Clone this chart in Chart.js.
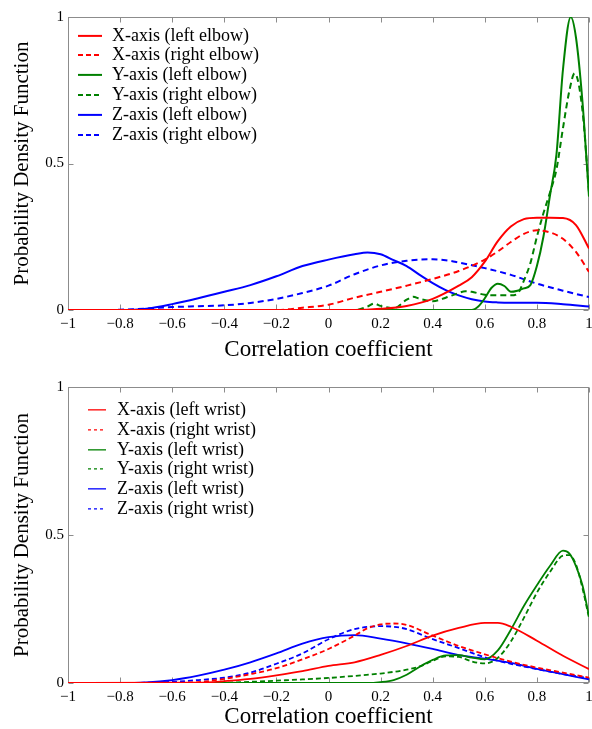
<!DOCTYPE html>
<html><head><meta charset="utf-8">
<script src="https://cdn.jsdelivr.net/npm/chart.js@4.4.1/dist/chart.umd.min.js"></script>
<style>
html,body{margin:0;padding:0;background:#fff;}
#wrap{position:relative;width:592px;height:729px;overflow:hidden;background:#fff;}
canvas{position:absolute;left:0;}
.lrow{position:absolute;white-space:nowrap;font-family:"Liberation Serif","Times New Roman",serif;font-size:18px;color:#000;}
.lrow svg{position:absolute;left:0;top:0;}
.lrow span{position:absolute;top:0;}
</style></head><body>
<div id="wrap">
<canvas id="c1" width="592" height="365" style="top:0"></canvas>
<canvas id="c2" width="592" height="364" style="top:365px"></canvas>
</div>
<script>
// ---------- data ----------
const xTicksMin = -1, xTicksMax = 1, xTickStep = 0.2;
const yTicks = [0, 0.5, 1];

// Top panel: elbow
const topLabels = ['X-axis (left elbow)','X-axis (right elbow)','Y-axis (left elbow)','Y-axis (right elbow)','Z-axis (left elbow)','Z-axis (right elbow)'];
const xLeftElbowX  = [-1, 0.1, 0.2, 0.3, 0.4, 0.5, 0.55, 0.6, 0.65, 0.7, 0.75, 0.8, 0.85, 0.9, 0.95, 1];
const xLeftElbowY  = [0, 0, 0.004, 0.014, 0.038, 0.083, 0.112, 0.165, 0.235, 0.285, 0.31, 0.315, 0.315, 0.314, 0.29, 0.21];
const xRightElbowX = [-1, -0.2, -0.1, 0, 0.1, 0.2, 0.3, 0.4, 0.5, 0.6, 0.65, 0.7, 0.75, 0.8, 0.85, 0.9, 0.95, 1];
const xRightElbowY = [0, 0, 0.008, 0.018, 0.042, 0.062, 0.083, 0.106, 0.133, 0.172, 0.2, 0.232, 0.26, 0.272, 0.265, 0.243, 0.198, 0.13];
const yLeftElbowX  = [-1, 0.55, 0.575, 0.6, 0.625, 0.65, 0.675, 0.7, 0.725, 0.75, 0.775, 0.8, 0.825, 0.85, 0.875, 0.9, 0.93, 0.95, 0.975, 0.99, 1];
const yLeftElbowY  = [0, 0, 0.012, 0.04, 0.075, 0.09, 0.082, 0.062, 0.066, 0.074, 0.085, 0.15, 0.25, 0.39, 0.53, 0.82, 1.0, 0.93, 0.71, 0.52, 0.387];
const yRightElbowX = [-1, 0.1, 0.15, 0.175, 0.2, 0.25, 0.3, 0.325, 0.35, 0.4, 0.45, 0.5, 0.525, 0.55, 0.6, 0.65, 0.7, 0.725, 0.75, 0.775, 0.8, 0.825, 0.85, 0.875, 0.9, 0.925, 0.945, 0.975, 1];
const yRightElbowY = [0, 0, 0.012, 0.022, 0.014, 0.006, 0.035, 0.045, 0.038, 0.03, 0.042, 0.058, 0.064, 0.062, 0.052, 0.05, 0.05, 0.055, 0.1, 0.16, 0.25, 0.33, 0.4, 0.48, 0.62, 0.75, 0.808, 0.68, 0.4];
const zLeftElbowX  = [-1, -0.8, -0.75, -0.7, -0.6, -0.5, -0.4, -0.3, -0.2, -0.1, 0, 0.1, 0.15, 0.2, 0.25, 0.3, 0.35, 0.4, 0.45, 0.5, 0.55, 0.6, 0.65, 0.7, 0.8, 0.9, 1];
const zLeftElbowY  = [0, 0, 0.001, 0.004, 0.02, 0.04, 0.062, 0.085, 0.115, 0.15, 0.172, 0.19, 0.196, 0.19, 0.17, 0.15, 0.12, 0.092, 0.068, 0.05, 0.037, 0.029, 0.026, 0.025, 0.025, 0.02, 0.012];
const zRightElbowX = [-1, -0.85, -0.8, -0.7, -0.6, -0.5, -0.4, -0.3, -0.2, -0.1, 0, 0.1, 0.2, 0.3, 0.35, 0.4, 0.45, 0.5, 0.6, 0.7, 0.8, 0.9, 1];
const zRightElbowY = [0, 0, 0.001, 0.005, 0.01, 0.013, 0.016, 0.024, 0.038, 0.058, 0.083, 0.122, 0.152, 0.168, 0.172, 0.173, 0.17, 0.162, 0.143, 0.12, 0.09, 0.066, 0.044];

// Bottom panel: wrist
const botLabels = ['X-axis (left wrist)','X-axis (right wrist)','Y-axis (left wrist)','Y-axis (right wrist)','Z-axis (left wrist)','Z-axis (right wrist)'];
const xLeftWristX  = [-1, -0.5, -0.4, -0.3, -0.2, -0.1, 0, 0.1, 0.2, 0.3, 0.4, 0.5, 0.6, 0.65, 0.7, 0.8, 0.9, 1];
const xLeftWristY  = [0, 0.001, 0.006, 0.014, 0.026, 0.04, 0.058, 0.07, 0.095, 0.125, 0.16, 0.186, 0.203, 0.203, 0.19, 0.143, 0.092, 0.047];
const xRightWristX = [-1, -0.6, -0.5, -0.4, -0.3, -0.2, -0.1, 0, 0.1, 0.15, 0.2, 0.25, 0.3, 0.4, 0.5, 0.6, 0.7, 0.8, 0.9, 1];
const xRightWristY = [0, 0, 0.003, 0.014, 0.03, 0.05, 0.08, 0.115, 0.16, 0.185, 0.198, 0.201, 0.196, 0.16, 0.125, 0.097, 0.072, 0.052, 0.035, 0.018];
const yLeftWristX  = [-1, 0.15, 0.2, 0.25, 0.3, 0.35, 0.4, 0.45, 0.5, 0.55, 0.6, 0.65, 0.7, 0.75, 0.8, 0.85, 0.9, 0.925, 0.95, 0.975, 1];
const yLeftWristY  = [0, 0, 0.003, 0.01, 0.028, 0.055, 0.078, 0.093, 0.094, 0.086, 0.08, 0.11, 0.18, 0.26, 0.33, 0.395, 0.447, 0.437, 0.395, 0.33, 0.225];
const yRightWristX = [-1, -0.5, -0.4, -0.3, -0.2, -0.1, 0, 0.1, 0.2, 0.3, 0.35, 0.4, 0.45, 0.5, 0.55, 0.6, 0.65, 0.7, 0.75, 0.8, 0.85, 0.9, 0.925, 0.95, 0.975, 1];
const yRightWristY = [0, 0, 0.001, 0.004, 0.008, 0.012, 0.017, 0.024, 0.032, 0.045, 0.056, 0.075, 0.09, 0.088, 0.073, 0.066, 0.085, 0.14, 0.22, 0.305, 0.375, 0.43, 0.432, 0.4, 0.32, 0.22];
const zLeftWristX  = [-1, -0.8, -0.7, -0.6, -0.5, -0.4, -0.3, -0.2, -0.1, 0, 0.1, 0.2, 0.3, 0.4, 0.5, 0.6, 0.7, 0.8, 0.9, 1];
const zLeftWristY  = [0, 0, 0.002, 0.01, 0.025, 0.045, 0.07, 0.1, 0.133, 0.155, 0.162, 0.15, 0.134, 0.115, 0.094, 0.082, 0.068, 0.048, 0.03, 0.012];
const zRightWristX = [-1, -0.8, -0.7, -0.6, -0.5, -0.4, -0.3, -0.2, -0.1, 0, 0.1, 0.2, 0.25, 0.3, 0.4, 0.5, 0.6, 0.7, 0.8, 0.9, 1];
const zRightWristY = [0, 0, 0.001, 0.004, 0.01, 0.018, 0.035, 0.065, 0.1, 0.148, 0.182, 0.192, 0.19, 0.182, 0.148, 0.118, 0.087, 0.065, 0.047, 0.03, 0.016];

// ---------- styling ----------
const RED = '#ff0000', GREEN = '#008000', BLUE = '#0000ff';
const SERIF = '"Liberation Serif", "Times New Roman", serif';
const seriesColors = [RED, RED, GREEN, GREEN, BLUE, BLUE];
const seriesDashed = [false, true, false, true, false, true];

function pts(xs, ys) { return xs.map((x, i) => ({ x: x, y: ys[i] })); }

function mkDatasets(labels, pairs, dash, lw) {
  return pairs.map((p, i) => ({
    label: labels[i],
    data: pts(p[0], p[1]),
    borderColor: seriesColors[i],
    backgroundColor: seriesColors[i],
    borderWidth: lw,
    borderDash: seriesDashed[i] ? dash : [],
    pointRadius: 0,
    cubicInterpolationMode: 'monotone',
    fill: false
  }));
}

function fmt(v) {
  const r = Math.round(v * 10) / 10;
  return (r < 0 ? '\u2212' : '') + String(Math.abs(r));
}

const framePlugin = {
  id: 'frame',
  beforeDatasetsDraw(chart) {
    const { ctx, chartArea: a, scales: { x, y } } = chart;
    ctx.save();
    ctx.strokeStyle = '#8c8c8c';
    ctx.lineWidth = 1;
    const L = Math.round(a.left) + 0.5, R = Math.round(a.right) - 0.5;
    const T = Math.round(a.top) + 0.5, B = Math.round(a.bottom) - 0.5;
    ctx.strokeRect(L, T, R - L, B - T);
    ctx.beginPath();
    x.ticks.forEach(t => {
      const p = Math.round(x.getPixelForValue(t.value)) + 0.5;
      ctx.moveTo(p, B); ctx.lineTo(p, B - 5);
      ctx.moveTo(p, T); ctx.lineTo(p, T + 5);
    });
    y.ticks.forEach(t => {
      const p = Math.round(y.getPixelForValue(t.value)) + 0.5;
      ctx.moveTo(L, p); ctx.lineTo(L + 5, p);
      ctx.moveTo(R, p); ctx.lineTo(R - 5, p);
    });
    ctx.stroke();
    ctx.restore();
  }
};

function mkOptions(padTop, xH, xTitlePad) {
  return {
    responsive: false, animation: false, devicePixelRatio: 1,
    layout: { padding: { top: padTop, right: 3, left: 0, bottom: 0 } },
    plugins: { legend: { display: false }, tooltip: { enabled: false } },
    scales: {
      x: {
        type: 'linear', min: xTicksMin, max: xTicksMax,
        grid: { display: false, drawTicks: false }, border: { display: false },
        ticks: { stepSize: xTickStep, autoSkip: false, maxRotation: 0, padding: 5, color: '#000',
                 font: { family: SERIF, size: 15 }, callback: fmt },
        title: { display: true, text: 'Correlation coefficient', color: '#000',
                 font: { family: SERIF, size: 23 }, padding: { top: 0, bottom: xTitlePad } },
        afterFit(s) { s.height = xH; s.paddingLeft = 0; s.paddingRight = 0; }
      },
      y: {
        type: 'linear', min: 0, max: 1,
        grid: { display: false, drawTicks: false }, border: { display: false },
        afterBuildTicks(s) { s.ticks = yTicks.map(v => ({ value: v })); },
        ticks: { padding: 4, color: '#000', font: { family: SERIF, size: 15 }, callback: fmt },
        title: { display: true, text: 'Probability Density Function', color: '#000',
                 font: { family: SERIF, size: 21 }, padding: { top: 10, bottom: 0 } },
        afterFit(s) { s.width = 68; s.paddingTop = 0; s.paddingBottom = 0; }
      }
    }
  };
}

const topChart = new Chart(document.getElementById('c1'), {
  type: 'line',
  data: { datasets: mkDatasets(topLabels, [
    [xLeftElbowX, xLeftElbowY], [xRightElbowX, xRightElbowY],
    [yLeftElbowX, yLeftElbowY], [yRightElbowX, yRightElbowY],
    [zLeftElbowX, zLeftElbowY], [zRightElbowX, zRightElbowY]], [6, 4], 2) },
  options: mkOptions(17, 55, 1.5),
  plugins: [framePlugin]
});

const botChart = new Chart(document.getElementById('c2'), {
  type: 'line',
  data: { datasets: mkDatasets(botLabels, [
    [xLeftWristX, xLeftWristY], [xRightWristX, xRightWristY],
    [yLeftWristX, yLeftWristY], [yRightWristX, yRightWristY],
    [zLeftWristX, zLeftWristY], [zRightWristX, zRightWristY]], [5, 3], 1.8) },
  options: mkOptions(22, 46, -2),
  plugins: [framePlugin]
});

// ---------- HTML legends built from the chart datasets ----------
function buildLegend(chart, o) {
  const wrap = document.getElementById('wrap');
  chart.data.datasets.forEach((ds, i) => {
    const row = document.createElement('div');
    row.className = 'lrow';
    const cy = o.top + i * o.step;
    row.style.left = o.lineX0 + 'px';
    row.style.top = (cy - o.step / 2) + 'px';
    row.style.height = o.step + 'px';
    row.style.lineHeight = o.step + 'px';
    const w = o.lineX1 - o.lineX0;
    const dash = ds.borderDash && ds.borderDash.length ? o.dash.join(',') : 'none';
    row.innerHTML = '<svg width="' + w + '" height="' + o.step + '"><line x1="0" y1="' + (o.step / 2) +
      '" x2="' + w + '" y2="' + (o.step / 2) + '" stroke="' + ds.borderColor + '" stroke-width="' + o.lw +
      '" stroke-dasharray="' + dash + '"/></svg>';
    const sp = document.createElement('span');
    sp.style.left = (o.textX - o.lineX0) + 'px';
    sp.textContent = ds.label;
    row.appendChild(sp);
    wrap.appendChild(row);
  });
}
buildLegend(topChart, { top: 35.5, step: 19.8, lineX0: 78, lineX1: 102, textX: 112, lw: 2, dash: [5, 3] });
buildLegend(botChart, { top: 410, step: 19.7, lineX0: 88, lineX1: 106, textX: 117, lw: 1.3, dash: [3, 3] });
</script>
</body></html>
